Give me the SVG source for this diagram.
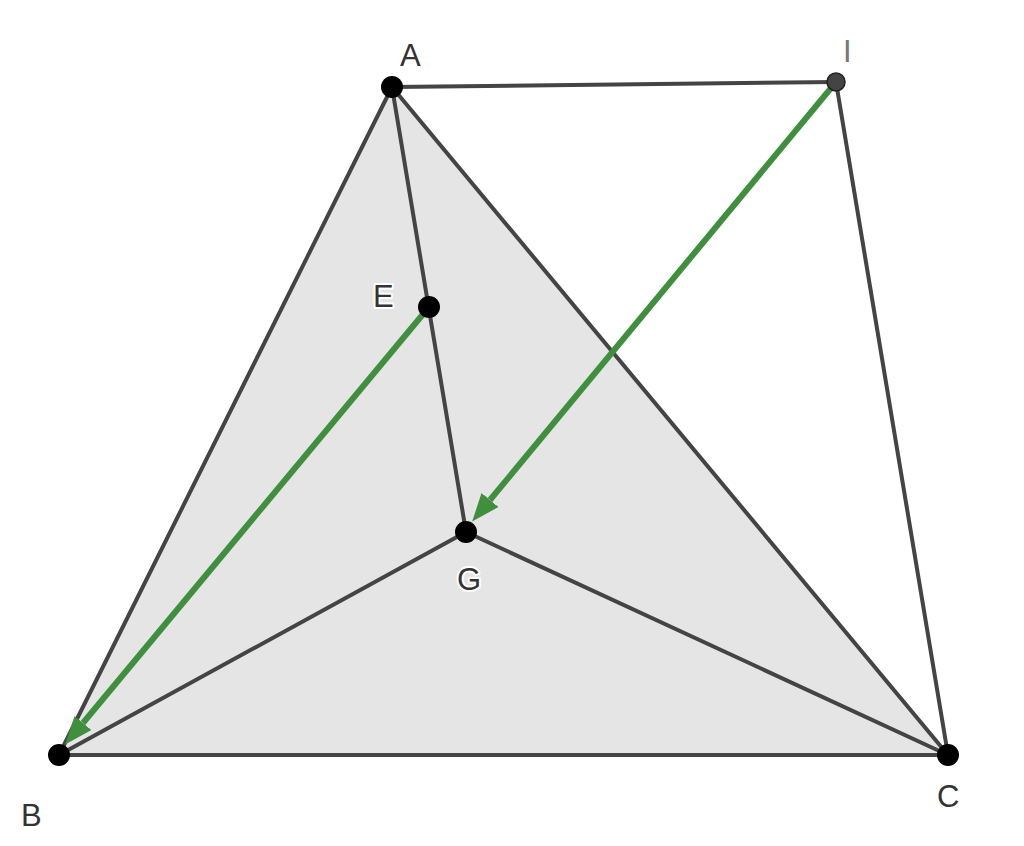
<svg xmlns="http://www.w3.org/2000/svg" width="1024" height="846" viewBox="0 0 1024 846">
<defs>
<style>
.edge{stroke:#444;stroke-width:4;fill:none;stroke-linecap:round}
.vec{stroke:#3f8f3f;stroke-width:6;fill:none}
.pt{fill:#000}
.lbl{font-family:"Liberation Sans",Arial,sans-serif;font-size:31px;fill:#333;stroke:#fff;stroke-width:4;paint-order:stroke;stroke-linejoin:round}
</style>
<marker id="ah" viewBox="0 0 28 22" refX="0" refY="11" markerWidth="28" markerHeight="22" markerUnits="userSpaceOnUse" orient="auto">
<path d="M0,0 L28,11 L0,22 Z" fill="#3f8f3f"/>
</marker>
</defs>
<rect width="1024" height="846" fill="#fff"/>
<g id="triangle-ABC">
<polygon points="392,87 59,755 948,755" fill="#e5e5e5" stroke="#444" stroke-width="4" stroke-linejoin="round"/>
</g>
<g id="connectors">
<line class="edge" x1="392" y1="87" x2="836" y2="82"/>
<line class="edge" x1="836" y1="82" x2="948" y2="755"/>
<line class="edge" x1="392" y1="87" x2="466" y2="532"/>
<line class="edge" x1="466" y1="532" x2="59" y2="755"/>
<line class="edge" x1="466" y1="532" x2="948" y2="755"/>
<line class="vec" x1="429" y1="307" x2="83" y2="723" marker-end="url(#ah)"/>
<line class="vec" x1="836" y1="82" x2="490" y2="500" marker-end="url(#ah)"/>
</g>
<g id="node-A"><circle class="pt" cx="392" cy="87" r="11"/><text class="lbl" x="400" y="66">A</text></g>
<g id="node-I"><circle cx="836" cy="82" r="9" fill="#444" stroke="#222" stroke-width="1.5"/><text class="lbl" x="843" y="62" style="fill:#777">I</text></g>
<g id="node-E"><circle class="pt" cx="429" cy="307" r="11"/><text class="lbl" x="373" y="307">E</text></g>
<g id="node-G"><circle class="pt" cx="466" cy="532" r="11"/><text class="lbl" x="457" y="590">G</text></g>
<g id="node-B"><circle class="pt" cx="59" cy="755" r="11"/><text class="lbl" x="21" y="826">B</text></g>
<g id="node-C"><circle class="pt" cx="948" cy="755" r="11"/><text class="lbl" x="937" y="807">C</text></g>
</svg>
